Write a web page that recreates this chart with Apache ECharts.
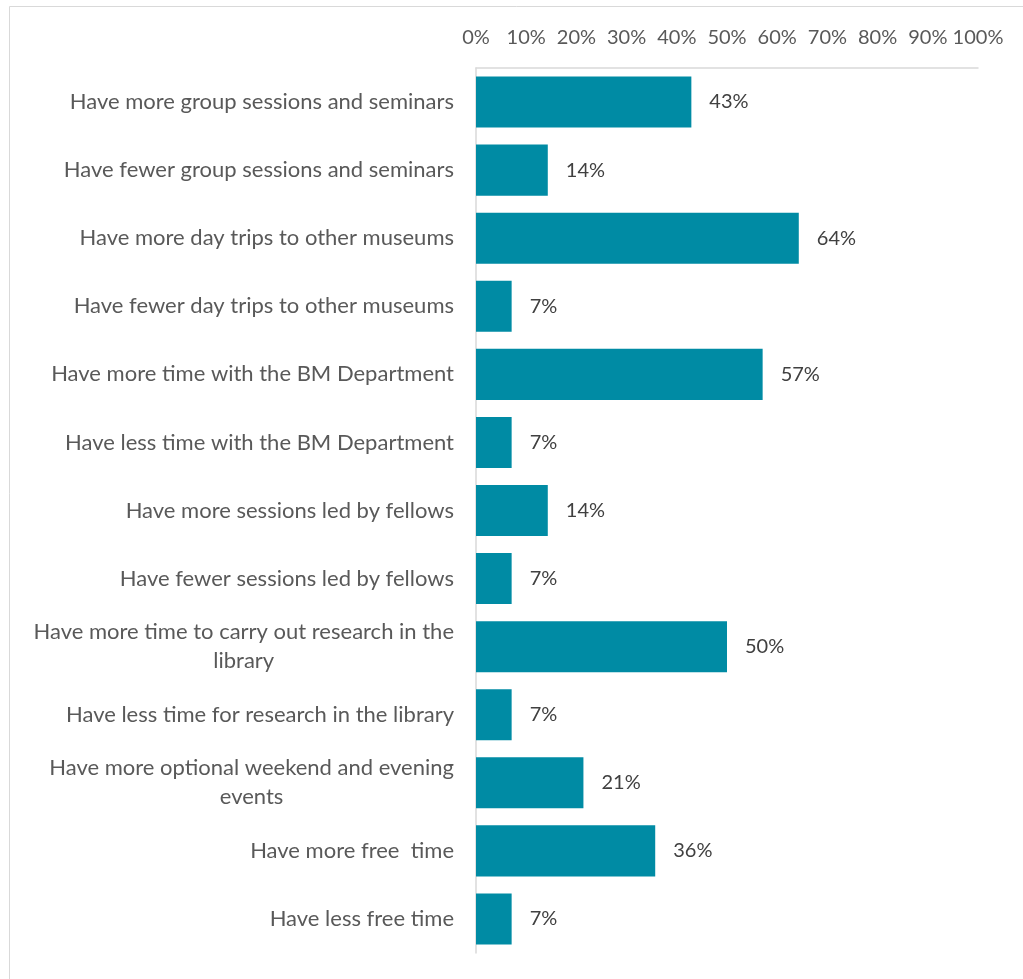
<!DOCTYPE html>
<html>
<head>
<meta charset="utf-8">
<script src="https://cdn.jsdelivr.net/npm/echarts@6/dist/echarts.min.js"></script>
<style>
html,body{margin:0;padding:0;background:#fff;}
#c{width:1023px;height:979px;}
</style>
</head>
<body>
<div id="c"></div>
<script>
var categories = [
  "Have more group sessions and seminars",
  "Have fewer group sessions and seminars",
  "Have more day trips to other museums",
  "Have fewer day trips to other museums",
  "Have more time with the BM Department",
  "Have less time with the BM Department",
  "Have more sessions led by fellows",
  "Have fewer sessions led by fellows",
  "Have more time to carry out research in the\nlibrary",
  "Have less time for research in the library",
  "Have more optional weekend and evening\nevents",
  "Have more free  time",
  "Have less free time"
];
var values = [42.9, 14.3, 64.3, 7.1, 57.1, 7.1, 14.3, 7.1, 50.0, 7.1, 21.4, 35.7, 7.1];
var tickLabels = ["0%","10%","20%","30%","40%","50%","60%","70%","80%","90%","100%"];

var FONT = 'Lato';
var chart = echarts.init(document.getElementById('c'));
chart.setOption({
  animation: false,
  backgroundColor: '#ffffff',
  graphic: [{
    type: 'rect',
    shape: { x: 9.5, y: 6.5, width: 1100, height: 1100 },
    style: { fill: 'none', stroke: '#d9d9d9', lineWidth: 1 },
    silent: true
  }],
  grid: { left: 476, right: 45, top: 68, bottom: 26, containLabel: false },
  xAxis: {
    type: 'value',
    position: 'top',
    min: 0, max: 100, interval: 10,
    axisLine: { show: true, lineStyle: { color: '#d9d9d9', width: 1.5 } },
    axisTick: { show: false },
    splitLine: { show: false },
    axisLabel: {
      margin: 20,
      color: '#595959',
      fontFamily: FONT,
      fontSize: 20,
      formatter: function (v) { return tickLabels[Math.round(v / 10)]; }
    }
  },
  yAxis: {
    type: 'category',
    inverse: true,
    data: categories,
    axisLine: { show: true, lineStyle: { color: '#d9d9d9', width: 1.5 } },
    axisTick: { show: false },
    axisLabel: {
      margin: 22,
      color: '#595959',
      fontFamily: FONT,
      fontSize: 22,
      lineHeight: 29,
      align: 'right',
      formatter: function (v) {
        return v.split('\n').map(function (l) { return '{c|' + l + '}'; }).join('\n');
      },
      rich: { c: { align: 'center', color: '#595959', fontFamily: FONT, fontSize: 22, lineHeight: 29 } }
    }
  },
  series: [{
    type: 'bar',
    data: values,
    barCategoryGap: '25%',
    itemStyle: { color: '#008BA4' },
    label: {
      show: true,
      position: 'right',
      distance: 18,
      color: '#404040',
      fontFamily: FONT,
      fontSize: 20,
      formatter: function (p) { return Math.round(p.value) + '%'; }
    }
  }]
});
</script>
</body>
</html>
